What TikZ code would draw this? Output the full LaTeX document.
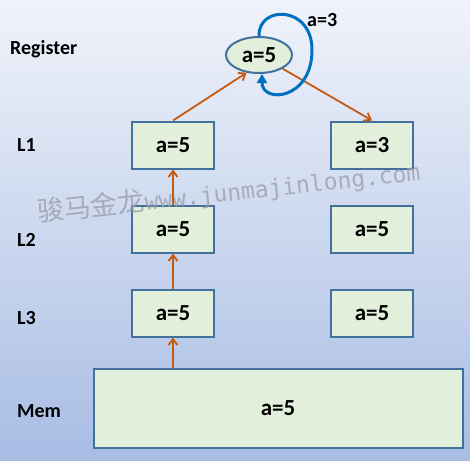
\documentclass[tikz,border=0pt]{standalone}
\usepackage{fontspec}
\setmainfont{Carlito}
\newfontfamily\wmcjk{Noto Sans CJK SC}
\newfontfamily\wmmono{DejaVu Sans Mono}
\usetikzlibrary{arrows.meta,shapes.geometric}
\definecolor{boxfill}{RGB}{226,239,218}
\definecolor{boxline}{RGB}{65,113,156}
\definecolor{orangeline}{RGB}{197,90,17}
\definecolor{loopblue}{RGB}{0,112,192}
\definecolor{bgtop}{RGB}{240,243,250}
\definecolor{bgbot}{RGB}{168,189,228}
\definecolor{wmgray}{RGB}{155,160,170}
\begin{document}
\begin{tikzpicture}[x=1pt,y=-1pt,
  cell/.style={draw=boxline,fill=boxfill,line width=2pt,minimum width=82pt,minimum height=47pt,
    inner sep=0pt,font=\fontsize{23}{26}\selectfont\bfseries},
  level/.style={font=\fontsize{20}{23}\selectfont\bfseries,anchor=west,inner sep=0pt},
  up/.style={draw=orangeline,line width=1.8pt,-{Straight Barb[length=6pt,width=9pt]}},
  watermark/.style={text=wmgray,opacity=0.8}]
\shade[top color=bgtop,bottom color=bgbot] (0,0) rectangle (470,460);
\useasboundingbox (0,0) rectangle (470,460);
% level labels
\node[level] (lreg) at (10,49) {Register};
\node[level] (l1) at (17,145) {L1};
\node[level] (l2) at (17,240) {L2};
\node[level] (l3) at (17,318) {L3};
\node[level] (lmem) at (17,411) {Mem};
% boxes
\node[cell] (a1) at (173,145) {a=5};
\node[cell] (b1) at (372,145) {a=3};
\node[cell] (a2) at (173,229) {a=5};
\node[cell] (b2) at (372,229) {a=5};
\node[cell] (a3) at (173,313) {a=5};
\node[cell] (b3) at (372,313) {a=5};
\node[cell,minimum width=369pt,minimum height=79pt] (mem) at (278,408.5) {a=5};
\node[ellipse,draw=boxline,fill=boxfill,line width=2pt,minimum width=66pt,minimum height=36pt,inner sep=0pt,
  font=\fontsize{23}{26}\selectfont\bfseries] (reg) at (259,55) {a=5};
% watermark
\node[watermark,rotate=6.2,anchor=base west,inner sep=0pt] (wm) at (38,222)
  {{\wmcjk\fontsize{27}{30}\selectfont 骏马金龙}{\wmmono\fontsize{23}{26}\selectfont www.junmajinlong.com}};
% orange arrows
\draw[up] (173,368) -- (a3.south);
\draw[up] (a3.north) -- (a2.south);
\draw[up] (a2.north) -- (a1.south);
\draw[up] (a1.north) -- (reg.235);
\draw[up] (reg.-30) -- (b1.north);
% loop
\coordinate (loopR) at (312,50);
\draw[loopblue,line width=3pt,-{Triangle[length=9pt,width=10pt]}]
  (reg.north) .. controls (258,5) and (312,5) .. (loopR)
  .. controls (312,100) and (262,104) .. (262,74);
\node[font=\fontsize{20}{23}\selectfont\bfseries,anchor=west,inner sep=0pt] (lab3) at (307,20) {a=3};
\end{tikzpicture}
\end{document}
